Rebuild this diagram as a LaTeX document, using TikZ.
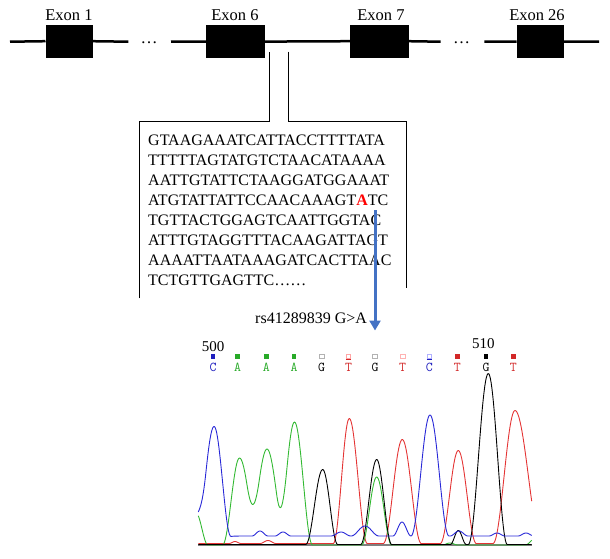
\documentclass[tikz,border=0pt]{standalone}
\usepackage{fontspec}
\setmainfont{Liberation Serif}
\usetikzlibrary{arrows.meta}
\definecolor{arrowblue}{RGB}{68,114,196}
\definecolor{trblue}{RGB}{40,40,215}
\definecolor{trgreen}{RGB}{50,185,50}
\definecolor{trred}{RGB}{228,52,52}
\definecolor{lblblue}{RGB}{30,30,190}
\definecolor{lblgreen}{RGB}{40,170,40}
\definecolor{lblred}{RGB}{210,40,40}
\definecolor{basegray}{RGB}{128,128,128}
\begin{document}
\begin{tikzpicture}[x=1pt,y=-1pt,
  declare function={
    pk(\xx,\cc,\hh,\wl,\wr)=\hh*(cos(90*min(1,abs(\xx-\cc)/((\xx<\cc)*\wl+(\xx>=\cc)*\wr))))^2;
    sg(\xx)=1/(1+exp(-(\xx-222)/3));
  },
  exon/.style={draw=black,fill=black,minimum height=32pt,inner sep=0pt},
  exlabel/.style={font=\fontsize{16.5}{16.5}\selectfont,anchor=base,inner sep=0pt},
  gene/.style={line width=2.5pt},
  boxline/.style={line width=1.4pt},
  seqline/.style={font=\fontsize{16}{16}\selectfont,anchor=base west,inner sep=0pt},
  dots/.style={font=\fontsize{17}{17}\selectfont,anchor=base,inner sep=0pt},
  base/.style={font=\ttfamily\fontsize{13.5}{13.5}\selectfont,inner sep=0pt},
  mk/.style={minimum size=4.5pt,inner sep=0pt,line width=0.8pt},
  trace/.style={line width=0.9pt,line join=round},
]
\useasboundingbox (0,0) rectangle (610,558);

% ---------- gene structure ----------
\node[exon,minimum width=46.6pt] (ex1) at (69,41.2) {};
\node[exon,minimum width=58pt] (ex6) at (235,41.6) {};
\node[exon,minimum width=58.3pt] (ex7) at (379.2,41.2) {};
\node[exon,minimum width=46.6pt] (ex26) at (540,41.6) {};
\node[exlabel] (l1) at (69,20.6) {Exon 1};
\node[exlabel] (l6) at (235,20.6) {Exon 6};
\node[exlabel] (l7) at (381,20.6) {Exon 7};
\node[exlabel] (l26) at (537,20.6) {Exon 26};
\node[dots] (d1) at (149,43) {…};
\node[dots] (d2) at (461.5,43) {…};
\coordinate (g0) at (10,41.7);
\coordinate (g1) at (128.3,41.7);
\coordinate (g2) at (171,41.7);
\coordinate (g3) at (440.7,41.7);
\coordinate (g4) at (484.3,41.7);
\coordinate (g5) at (599,41.7);
\draw[gene] (g0) -- (ex1.west);
\draw[gene] (ex1.east) -- (g1);
\draw[gene] (g2) -- (ex6.west);
\draw[gene] (ex6.east) -- (ex7.west);
\draw[gene] (ex7.east) -- (g3);
\draw[gene] (g4) -- (ex26.west);
\draw[gene] (ex26.east) -- (g5);

% ---------- zoomed intron box ----------
\coordinate (bl0) at (139.3,298.3);
\coordinate (bl1) at (139.3,121.7);
\coordinate (bl2) at (269.3,121.7);
\coordinate (bl3) at (269.3,51.7);
\coordinate (br0) at (288.3,51.7);
\coordinate (br1) at (288.3,121.7);
\coordinate (br2) at (406.7,121.7);
\coordinate (br3) at (406.7,288.3);
\draw[boxline] (bl0) -- (bl1) -- (bl2) -- (bl3);
\draw[boxline] (br0) -- (br1) -- (br2) -- (br3);

\node[seqline] (s1) at (148,145.7) {GTAAGAAATCATTACCTTTTATA};
\node[seqline] (s2) at (148,165.7) {TTTTTAGTATGTCTAACATAAAA};
\node[seqline] (s3) at (148,185.7) {AATTGTATTCTAAGGATGGAAAT};
\node[seqline] (s4) at (148,205.7) {ATGTATTATTCCAACAAAGT{\bfseries\color{red}A}TC};
\node[seqline] (s5) at (148,225.7) {TGTTACTGGAGTCAATTGGTAC};
\node[seqline] (s6) at (148,245.7) {ATTTGTAGGTTTACAAGATTAGT};
\node[seqline] (s7) at (148,265.7) {AAAATTAATAAAGATCACTTAAC};
\node[seqline] (s8) at (148,285.7) {TCTGTTGAGTTC……};

% ---------- SNP arrow ----------
\coordinate (a0) at (375,210);
\coordinate (a1) at (375,330.5);
\draw[arrowblue,line width=3pt,-{Triangle[length=10pt,width=11pt]}] (a0) -- (a1);
\node[seqline] (rs) at (255,323.6) {rs41289839 G>A};

% ---------- chromatogram header ----------
\node[font=\fontsize{15}{15}\selectfont,anchor=base,inner sep=0pt] (n500) at (213,351.6) {500};
\node[font=\fontsize{15}{15}\selectfont,anchor=base,inner sep=0pt] (n510) at (483.3,348.2) {510};

\node[mk,fill=lblblue] (m1) at (213,356.5) {};
\node[mk,fill=lblgreen] (m2) at (237.5,356.5) {};
\node[mk,fill=lblgreen] (m3) at (266.3,356.5) {};
\node[mk,fill=lblgreen] (m4) at (294,356.5) {};
\node[mk,draw=black!30] (m5) at (321.7,356.5) {};
\node[mk,draw=red!35] (m6) at (348.5,356.5) {};
\draw[lblred,line width=1pt] (m6.south west) -- (m6.south east);
\node[mk,draw=black!30] (m7) at (375,356.5) {};
\node[mk,draw=red!30] (m8) at (402.7,356.5) {};
\node[mk,draw=blue!30] (m9) at (429.3,356.5) {};
\draw[lblblue,line width=1pt] (m9.south west) -- (m9.south east);
\node[mk,fill=lblred] (m10) at (457.3,356.5) {};
\node[mk,fill=black] (m11) at (486,356.5) {};
\node[mk,fill=lblred] (m12) at (513.3,356.5) {};

\node[base,text=lblblue] (b1) at (213,367.6) {C};
\node[base,text=lblgreen] (b2) at (237.5,367.6) {A};
\node[base,text=lblgreen] (b3) at (266.3,367.6) {A};
\node[base,text=lblgreen] (b4) at (294,367.6) {A};
\node[base,text=black] (b5) at (321.7,367.6) {G};
\node[base,text=lblred] (b6) at (348.5,367.6) {T};
\node[base,text=black] (b7) at (375,367.6) {G};
\node[base,text=lblred] (b8) at (402.7,367.6) {T};
\node[base,text=lblblue] (b9) at (429.3,367.6) {C};
\node[base,text=lblred] (b10) at (457.3,367.6) {T};
\node[base,text=black] (b11) at (486,367.6) {G};
\node[base,text=lblred] (b12) at (513.3,367.6) {T};

% ---------- chromatogram traces ----------
\coordinate (ax0) at (198.3,545);
\coordinate (ax1) at (531.7,545);
\draw[basegray,line width=2pt] (ax0) -- (ax1);

\draw[trace,trred] plot[domain=198.3:531.7,samples=420]
  (\x,{545-(1.5+pk(\x,235,2,6,6)+pk(\x,268,3,8,8)
   +pk(\x,349.3,125,16,18)+pk(\x,402.3,104,19,19)
   +pk(\x,458.3,93,18,18)+pk(\x,515,133,22,27))});
\draw[trace,trgreen] plot[domain=198.3:531.7,samples=420]
  (\x,{545-(pk(\x,196,32,12,12)+pk(\x,239.5,87,17,20)+pk(\x,267,96,20,20)
   +pk(\x,294.5,123,18,18)+pk(\x,376.7,68,15,15)+pk(\x,450,2,8,8)+pk(\x,537,8,12,12))});
\draw[trace,black] plot[domain=198.3:531.7,samples=420]
  (\x,{545-(0.5+pk(\x,322.7,75,17,15)+pk(\x,376.7,85,16,15)
   +pk(\x,458.3,14,8,8)+pk(\x,488.3,171,20,19))});
\draw[trace,trblue] plot[domain=198.3:531.7,samples=420]
  (\x,{545-(9*sg(\x)+pk(\x,196,28,10,10)+pk(\x,214,118,19,17)
   +pk(\x,260,5,8,8)+pk(\x,283,4,8,8)+pk(\x,341,4,10,10)
   +pk(\x,365,10,14,14)+pk(\x,402,14,9,9)+pk(\x,430,121,19,19)
   +pk(\x,459,5,9,9)+pk(\x,497,3,8,8)+pk(\x,526,3,8,8))});
\end{tikzpicture}
\end{document}
